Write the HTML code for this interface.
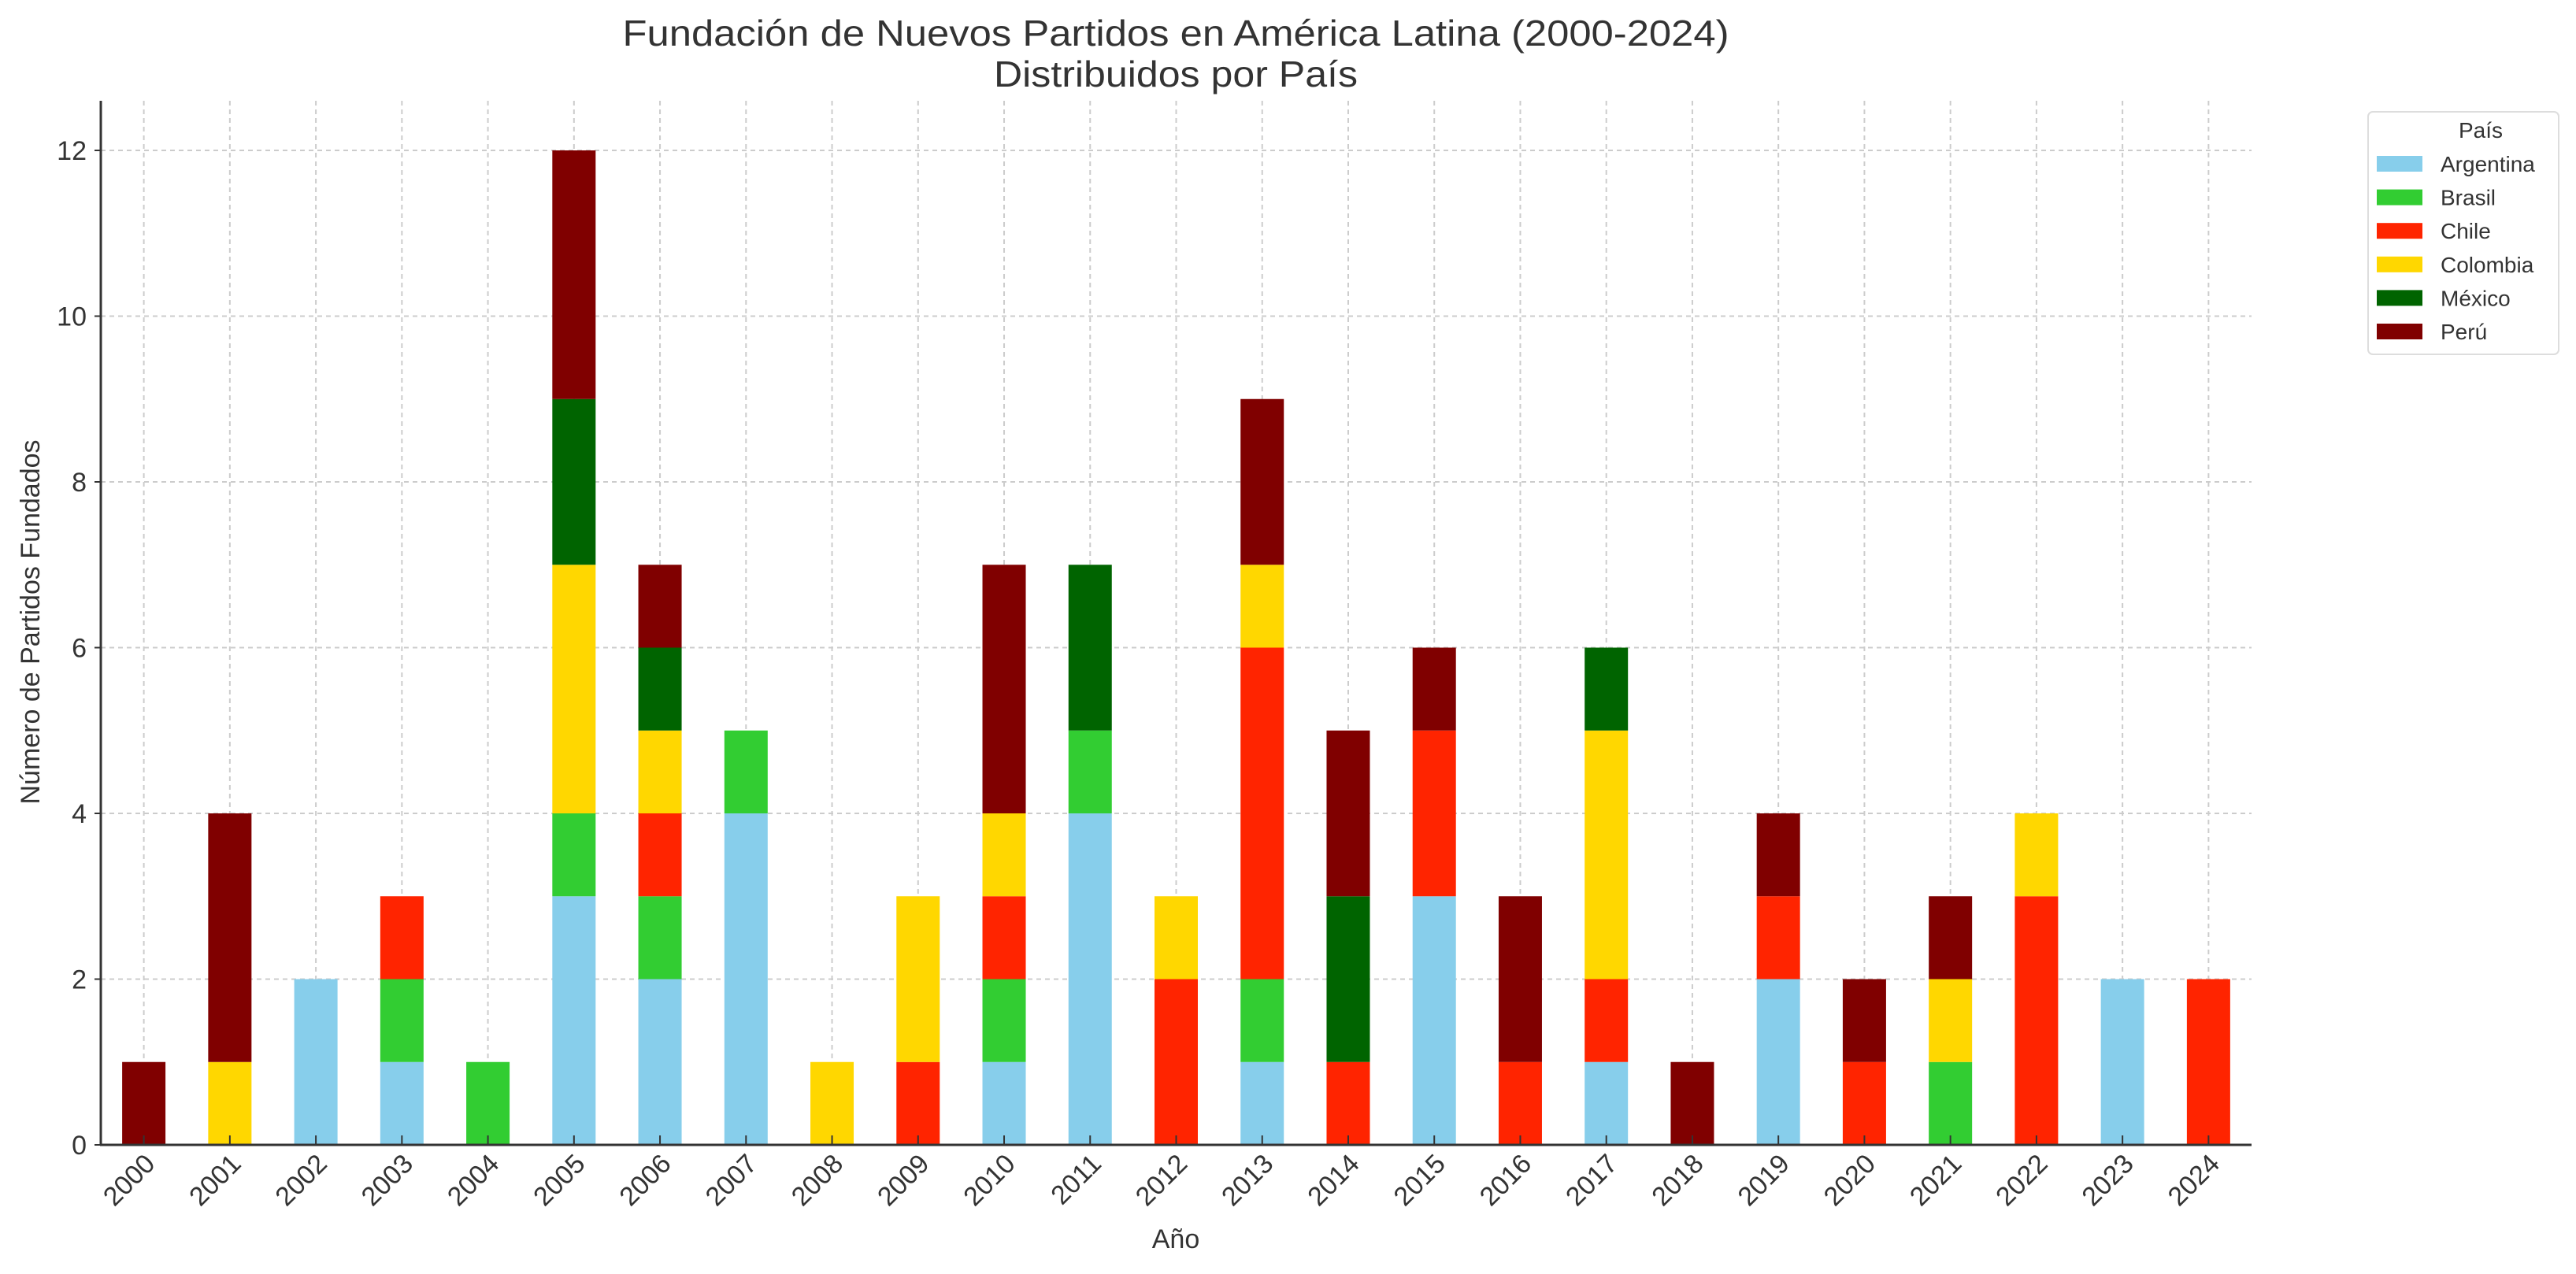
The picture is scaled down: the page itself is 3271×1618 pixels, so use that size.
<!DOCTYPE html>
<html><head><meta charset="utf-8"><style>
html,body{margin:0;padding:0;background:#fff}
svg{display:block;font-family:"Liberation Sans","DejaVu Sans",sans-serif}
</style></head><body>
<svg id="chart" width="3271" height="1618" viewBox="0 0 3271 1618" xmlns="http://www.w3.org/2000/svg">
<rect width="3271" height="1618" fill="#fff"/>
<g id="grid"></g>
<g id="bars"></g>
<g id="axes"></g>
<text x="1493" y="58" text-anchor="middle" font-size="46" fill="#333" textLength="1405" lengthAdjust="spacingAndGlyphs">Fundación de Nuevos Partidos en América Latina (2000-2024)</text>
<text x="1493" y="110" text-anchor="middle" font-size="46" fill="#333" textLength="462" lengthAdjust="spacingAndGlyphs">Distribuidos por País</text>
<text x="1493" y="1585" text-anchor="middle" font-size="34" fill="#333">Año</text>
<text transform="translate(50,790) rotate(-90)" text-anchor="middle" font-size="34" fill="#333">Número de Partidos Fundados</text>
<g>
<rect x="3007" y="142" width="242" height="308" rx="6" fill="#fff" stroke="#ddd" stroke-width="2"/>
<text x="3150" y="175" text-anchor="middle" font-size="28" fill="#333">País</text>
<g id="legend-items"></g>
</g>
</svg>
<script>
const years = ["2000","2001","2002","2003","2004","2005","2006","2007","2008","2009","2010","2011","2012","2013","2014","2015","2016","2017","2018","2019","2020","2021","2022","2023","2024"];
const countries = ["Argentina","Brasil","Chile","Colombia","México","Perú"];
const argentina = [0,0,2,1,0,3,2,4,0,0,1,4,0,1,0,3,0,1,0,2,0,0,0,2,0];
const brasil    = [0,0,0,1,1,1,1,1,0,0,1,1,0,1,0,0,0,0,0,0,0,1,0,0,0];
const chile     = [0,0,0,1,0,0,1,0,0,1,1,0,2,4,1,2,1,1,0,1,1,0,3,0,2];
const colombia  = [0,1,0,0,0,3,1,0,1,2,1,0,1,1,0,0,0,3,0,0,0,1,1,0,0];
const mexico    = [0,0,0,0,0,2,1,0,0,0,0,2,0,0,2,0,0,1,0,0,0,0,0,0,0];
const peru      = [1,3,0,0,0,3,1,0,0,0,3,0,0,2,2,1,2,0,1,1,1,1,0,0,0];
const yTicks = [0,2,4,6,8,10,12];
const colors = ["#87CEEB","#32CD32","#FF2400","#FFD700","#006400","#800000"];
const series = [argentina,brasil,chile,colombia,mexico,peru];

const NS="http://www.w3.org/2000/svg";
const L=128,R=2859,T=128,B=1454,Y12=191;
const step=(R-L)/years.length, barW=55;
const xc=i=>L+step*(i+0.5);
const y=v=>B-(B-Y12)*v/12;
function mk(tag,attrs,parent){const e=document.createElementNS(NS,tag);for(const k in attrs)e.setAttribute(k,attrs[k]);parent.appendChild(e);return e;}
const grid=document.getElementById('grid'),bars=document.getElementById('bars'),axes=document.getElementById('axes');
yTicks.forEach(t=>{
  const g=mk('line',{x1:L,x2:R,y1:y(t),y2:y(t),stroke:'#ccc','stroke-width':2,'stroke-dasharray':'6,5'},grid);
  
  
  const tk=mk('line',{x1:L-8,x2:L,y1:y(t),y2:y(t),stroke:'#333','stroke-width':2},axes);
  
  
  const tx=mk('text',{x:L-18,y:y(t)+12,'text-anchor':'end','font-size':34,fill:'#333'},axes);
  tx.textContent=t;
  
  
});
years.forEach((yr,i)=>{
  const g=mk('line',{x1:xc(i),x2:xc(i),y1:T,y2:B,stroke:'#ccc','stroke-width':2,'stroke-dasharray':'6,5'},grid);
  
  
  let acc=0;
  series.forEach((s,k)=>{
    const v=s[i]; if(!v) return;
    const r=mk('rect',{x:xc(i)-barW/2,y:y(acc+v),width:barW,height:y(acc)-y(acc+v),fill:colors[k]},bars);
    
    
    acc+=v;
  });
  const tk=mk('line',{x1:xc(i),x2:xc(i),y1:B,y2:B-12,stroke:'#333','stroke-width':2},axes);
  
  
  const tx=mk('text',{transform:`translate(${xc(i)+16},${B+26}) rotate(-45)`,'text-anchor':'end','font-size':34,fill:'#333'},axes);
  tx.textContent=yr;
  
  
});
const ax1=mk('line',{x1:L,x2:L,y1:T,y2:B+1,stroke:'#333','stroke-width':3},axes);


const ax2=mk('line',{x1:L-1,x2:R,y1:B,y2:B,stroke:'#333','stroke-width':3},axes);


const li=document.getElementById('legend-items');
countries.forEach((c,k)=>{
  const cy=208+k*42.6;
  const sw=mk('rect',{x:3018,y:cy-10,width:58,height:20,fill:colors[k]},li);
  
  
  const t=mk('text',{x:3099,y:cy+10,'font-size':28,fill:'#333'},li);
  t.textContent=c;
  
  
});
</script>
</body></html>
